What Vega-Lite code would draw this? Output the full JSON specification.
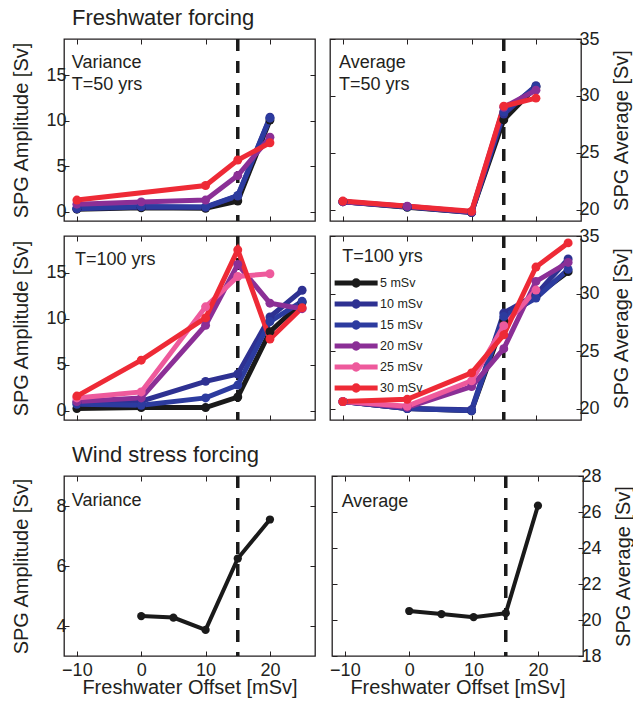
{
  "$schema": "https://vega.github.io/schema/vega-lite/v6.json",
  "description": "SPG amplitude and average vs freshwater offset, freshwater and wind stress forcing",
  "padding": {"left": 10, "top": 7, "right": 0, "bottom": 0},
  "background": "white",
  "datasets": {
    "series": [
      {"p": "v50", "s": "5 mSv", "x": -10, "y": 0.3}, {"p": "v50", "s": "5 mSv", "x": 0, "y": 0.45}, {"p": "v50", "s": "5 mSv", "x": 10, "y": 0.4}, {"p": "v50", "s": "5 mSv", "x": 15, "y": 1.2}, {"p": "v50", "s": "5 mSv", "x": 20, "y": 10.1},
      {"p": "v50", "s": "10 mSv", "x": -10, "y": 0.35}, {"p": "v50", "s": "10 mSv", "x": 0, "y": 0.55}, {"p": "v50", "s": "10 mSv", "x": 10, "y": 0.5}, {"p": "v50", "s": "10 mSv", "x": 15, "y": 1.75}, {"p": "v50", "s": "10 mSv", "x": 20, "y": 10.4},
      {"p": "v50", "s": "15 mSv", "x": -10, "y": 0.4}, {"p": "v50", "s": "15 mSv", "x": 0, "y": 0.6}, {"p": "v50", "s": "15 mSv", "x": 10, "y": 0.55}, {"p": "v50", "s": "15 mSv", "x": 15, "y": 1.8}, {"p": "v50", "s": "15 mSv", "x": 20, "y": 10.3},
      {"p": "v50", "s": "20 mSv", "x": -10, "y": 0.85}, {"p": "v50", "s": "20 mSv", "x": 0, "y": 1.1}, {"p": "v50", "s": "20 mSv", "x": 10, "y": 1.3}, {"p": "v50", "s": "20 mSv", "x": 15, "y": 4.0}, {"p": "v50", "s": "20 mSv", "x": 20, "y": 8.2},
      {"p": "v50", "s": "30 mSv", "x": -10, "y": 1.3}, {"p": "v50", "s": "30 mSv", "x": 10, "y": 2.9}, {"p": "v50", "s": "30 mSv", "x": 15, "y": 5.7}, {"p": "v50", "s": "30 mSv", "x": 20, "y": 7.6},

      {"p": "a50", "s": "5 mSv", "x": -10, "y": 20.7}, {"p": "a50", "s": "5 mSv", "x": 0, "y": 20.2}, {"p": "a50", "s": "5 mSv", "x": 10, "y": 19.75}, {"p": "a50", "s": "5 mSv", "x": 15, "y": 27.9}, {"p": "a50", "s": "5 mSv", "x": 20, "y": 30.8},
      {"p": "a50", "s": "10 mSv", "x": -10, "y": 20.7}, {"p": "a50", "s": "10 mSv", "x": 0, "y": 20.25}, {"p": "a50", "s": "10 mSv", "x": 10, "y": 19.75}, {"p": "a50", "s": "10 mSv", "x": 15, "y": 28.4}, {"p": "a50", "s": "10 mSv", "x": 20, "y": 30.9},
      {"p": "a50", "s": "15 mSv", "x": -10, "y": 20.7}, {"p": "a50", "s": "15 mSv", "x": 0, "y": 20.25}, {"p": "a50", "s": "15 mSv", "x": 10, "y": 19.8}, {"p": "a50", "s": "15 mSv", "x": 15, "y": 28.6}, {"p": "a50", "s": "15 mSv", "x": 20, "y": 30.8},
      {"p": "a50", "s": "20 mSv", "x": -10, "y": 20.7}, {"p": "a50", "s": "20 mSv", "x": 0, "y": 20.3}, {"p": "a50", "s": "20 mSv", "x": 10, "y": 19.8}, {"p": "a50", "s": "20 mSv", "x": 15, "y": 29.0}, {"p": "a50", "s": "20 mSv", "x": 20, "y": 30.5},
      {"p": "a50", "s": "30 mSv", "x": -10, "y": 20.75}, {"p": "a50", "s": "30 mSv", "x": 10, "y": 19.85}, {"p": "a50", "s": "30 mSv", "x": 15, "y": 29.1}, {"p": "a50", "s": "30 mSv", "x": 20, "y": 29.8},

      {"p": "v100", "s": "5 mSv", "x": -10, "y": 0.25}, {"p": "v100", "s": "5 mSv", "x": 0, "y": 0.35}, {"p": "v100", "s": "5 mSv", "x": 10, "y": 0.35}, {"p": "v100", "s": "5 mSv", "x": 15, "y": 1.5}, {"p": "v100", "s": "5 mSv", "x": 20, "y": 8.6}, {"p": "v100", "s": "5 mSv", "x": 25, "y": 11.8},
      {"p": "v100", "s": "10 mSv", "x": -10, "y": 0.9}, {"p": "v100", "s": "10 mSv", "x": 0, "y": 1.05}, {"p": "v100", "s": "10 mSv", "x": 10, "y": 3.2}, {"p": "v100", "s": "10 mSv", "x": 15, "y": 4.0}, {"p": "v100", "s": "10 mSv", "x": 20, "y": 10.2}, {"p": "v100", "s": "10 mSv", "x": 25, "y": 13.1},
      {"p": "v100", "s": "15 mSv", "x": -10, "y": 0.7}, {"p": "v100", "s": "15 mSv", "x": 0, "y": 0.6}, {"p": "v100", "s": "15 mSv", "x": 10, "y": 1.4}, {"p": "v100", "s": "15 mSv", "x": 15, "y": 2.8}, {"p": "v100", "s": "15 mSv", "x": 20, "y": 9.7}, {"p": "v100", "s": "15 mSv", "x": 25, "y": 11.9},
      {"p": "v100", "s": "20 mSv", "x": -10, "y": 1.0}, {"p": "v100", "s": "20 mSv", "x": 0, "y": 1.4}, {"p": "v100", "s": "20 mSv", "x": 10, "y": 9.3}, {"p": "v100", "s": "20 mSv", "x": 15, "y": 15.9}, {"p": "v100", "s": "20 mSv", "x": 20, "y": 11.7}, {"p": "v100", "s": "20 mSv", "x": 25, "y": 11.1},
      {"p": "v100", "s": "25 mSv", "x": -10, "y": 1.4}, {"p": "v100", "s": "25 mSv", "x": 0, "y": 2.05}, {"p": "v100", "s": "25 mSv", "x": 10, "y": 11.3}, {"p": "v100", "s": "25 mSv", "x": 15, "y": 14.6}, {"p": "v100", "s": "25 mSv", "x": 20, "y": 14.9},
      {"p": "v100", "s": "30 mSv", "x": -10, "y": 1.6}, {"p": "v100", "s": "30 mSv", "x": 0, "y": 5.5}, {"p": "v100", "s": "30 mSv", "x": 10, "y": 10.1}, {"p": "v100", "s": "30 mSv", "x": 15, "y": 17.5}, {"p": "v100", "s": "30 mSv", "x": 20, "y": 7.8}, {"p": "v100", "s": "30 mSv", "x": 25, "y": 11.2},

      {"p": "a100", "s": "5 mSv", "x": -10, "y": 20.6}, {"p": "a100", "s": "5 mSv", "x": 0, "y": 20.0}, {"p": "a100", "s": "5 mSv", "x": 10, "y": 19.8}, {"p": "a100", "s": "5 mSv", "x": 15, "y": 27.6}, {"p": "a100", "s": "5 mSv", "x": 20, "y": 29.8}, {"p": "a100", "s": "5 mSv", "x": 25, "y": 31.9},
      {"p": "a100", "s": "10 mSv", "x": -10, "y": 20.6}, {"p": "a100", "s": "10 mSv", "x": 0, "y": 20.0}, {"p": "a100", "s": "10 mSv", "x": 10, "y": 19.9}, {"p": "a100", "s": "10 mSv", "x": 15, "y": 28.3}, {"p": "a100", "s": "10 mSv", "x": 20, "y": 29.9}, {"p": "a100", "s": "10 mSv", "x": 25, "y": 33.0},
      {"p": "a100", "s": "15 mSv", "x": -10, "y": 20.6}, {"p": "a100", "s": "15 mSv", "x": 0, "y": 20.0}, {"p": "a100", "s": "15 mSv", "x": 10, "y": 19.8}, {"p": "a100", "s": "15 mSv", "x": 15, "y": 28.0}, {"p": "a100", "s": "15 mSv", "x": 20, "y": 29.6}, {"p": "a100", "s": "15 mSv", "x": 25, "y": 32.1},
      {"p": "a100", "s": "20 mSv", "x": -10, "y": 20.6}, {"p": "a100", "s": "20 mSv", "x": 0, "y": 20.1}, {"p": "a100", "s": "20 mSv", "x": 10, "y": 21.9}, {"p": "a100", "s": "20 mSv", "x": 15, "y": 25.2}, {"p": "a100", "s": "20 mSv", "x": 20, "y": 31.05}, {"p": "a100", "s": "20 mSv", "x": 25, "y": 32.7},
      {"p": "a100", "s": "25 mSv", "x": -10, "y": 20.6}, {"p": "a100", "s": "25 mSv", "x": 0, "y": 20.2}, {"p": "a100", "s": "25 mSv", "x": 10, "y": 22.4}, {"p": "a100", "s": "25 mSv", "x": 15, "y": 27.2}, {"p": "a100", "s": "25 mSv", "x": 20, "y": 30.3},
      {"p": "a100", "s": "30 mSv", "x": -10, "y": 20.6}, {"p": "a100", "s": "30 mSv", "x": 0, "y": 20.8}, {"p": "a100", "s": "30 mSv", "x": 10, "y": 23.1}, {"p": "a100", "s": "30 mSv", "x": 15, "y": 26.4}, {"p": "a100", "s": "30 mSv", "x": 20, "y": 32.3}, {"p": "a100", "s": "30 mSv", "x": 25, "y": 34.4},

      {"p": "vw", "s": "wind", "x": 0, "y": 4.33}, {"p": "vw", "s": "wind", "x": 5, "y": 4.28}, {"p": "vw", "s": "wind", "x": 10, "y": 3.87}, {"p": "vw", "s": "wind", "x": 15, "y": 6.25}, {"p": "vw", "s": "wind", "x": 20, "y": 7.55},
      {"p": "aw", "s": "wind", "x": 0, "y": 20.5}, {"p": "aw", "s": "wind", "x": 5, "y": 20.33}, {"p": "aw", "s": "wind", "x": 10, "y": 20.16}, {"p": "aw", "s": "wind", "x": 15, "y": 20.38}, {"p": "aw", "s": "wind", "x": 20, "y": 26.35}
    ]
  },
  "vconcat": [
    {
      "vconcat": [
        {
          "title": {"text": "Freshwater forcing", "frame": "group", "dx": 8},
          "hconcat": [
            {
              "width": 251, "height": 182,
              "layer": [
                {"data": {"values": [{"x": 15}]}, "mark": {"type": "rule", "color": "#1a1a1a", "strokeWidth": 3.5, "strokeDash": [12, 10]},
                 "encoding": {"x": {"field": "x", "type": "quantitative", "scale": {"domain": [-12, 27], "nice": false, "zero": false}, "axis": null}}},
                {"data": {"name": "series"}, "transform": [{"filter": "datum.p == 'v50'"}],
                 "mark": {"type": "line", "strokeWidth": 5, "point": {"filled": true, "size": 80, "opacity": 1}},
                 "encoding": {
                   "x": {"field": "x", "type": "quantitative", "scale": {"domain": [-12, 27], "nice": false, "zero": false}, "axis": {"values": [-10, 0, 10, 20], "labels": false, "title": null, "minExtent": 0, "maxExtent": 0}},
                   "y": {"field": "y", "type": "quantitative", "scale": {"domain": [-1, 19], "nice": false, "zero": false}, "axis": {"orient": "left", "values": [0, 5, 10, 15], "title": "SPG Amplitude [Sv]", "minExtent": 30, "maxExtent": 30}},
                   "color": {"field": "s", "type": "nominal", "scale": {"domain": ["5 mSv", "10 mSv", "15 mSv", "20 mSv", "25 mSv", "30 mSv"], "range": ["#1a1a1a", "#2e3192", "#2c3b9f", "#8b2f96", "#ee5a9c", "#ee2a36"]}, "legend": null}
                 }},
                {"data": {"values": [{"t": "Variance\nT=50 yrs"}]}, "mark": {"type": "text", "align": "left", "baseline": "alphabetic", "fontSize": 18, "lineBreak": "\n", "lineHeight": 22, "font": "Liberation Sans", "color": "#231f20"},
                 "encoding": {
                   "text": {"field": "t"},
                   "x": {"datum": -10.8, "type": "quantitative", "scale": {"domain": [-12, 27], "nice": false, "zero": false}, "axis": {"orient": "top", "values": [-10, 0, 10, 20], "labels": false, "title": null, "minExtent": 0, "maxExtent": 0}},
                   "y": {"datum": 15.8, "type": "quantitative", "scale": {"domain": [-1, 19], "nice": false, "zero": false}, "axis": {"orient": "right", "values": [0, 5, 10, 15], "labels": false, "title": null, "minExtent": 0, "maxExtent": 0}}
                 }}
              ],
              "resolve": {"axis": {"x": "independent", "y": "independent"}}
            },
            {
              "width": 251, "height": 182,
              "layer": [
                {"data": {"values": [{"x": 15}]}, "mark": {"type": "rule", "color": "#1a1a1a", "strokeWidth": 3.5, "strokeDash": [12, 10]},
                 "encoding": {"x": {"field": "x", "type": "quantitative", "scale": {"domain": [-12, 27], "nice": false, "zero": false}, "axis": null}}},
                {"data": {"name": "series"}, "transform": [{"filter": "datum.p == 'a50'"}],
                 "mark": {"type": "line", "strokeWidth": 5, "point": {"filled": true, "size": 80, "opacity": 1}},
                 "encoding": {
                   "x": {"field": "x", "type": "quantitative", "scale": {"domain": [-12, 27], "nice": false, "zero": false}, "axis": {"values": [-10, 0, 10, 20], "labels": false, "title": null, "minExtent": 0, "maxExtent": 0}},
                   "y": {"field": "y", "type": "quantitative", "scale": {"domain": [19, 35], "nice": false, "zero": false}, "axis": {"orient": "right", "values": [20, 25, 30, 35], "title": "SPG Average [Sv]", "titleAngle": 270, "titleBaseline": "top", "minExtent": 27, "maxExtent": 27}},
                   "color": {"field": "s", "type": "nominal", "scale": {"domain": ["5 mSv", "10 mSv", "15 mSv", "20 mSv", "25 mSv", "30 mSv"], "range": ["#1a1a1a", "#2e3192", "#2c3b9f", "#8b2f96", "#ee5a9c", "#ee2a36"]}, "legend": null}
                 }},
                {"data": {"values": [{"t": "Average\nT=50 yrs"}]}, "mark": {"type": "text", "align": "left", "baseline": "alphabetic", "fontSize": 18, "lineBreak": "\n", "lineHeight": 22, "font": "Liberation Sans", "color": "#231f20"},
                 "encoding": {
                   "text": {"field": "t"},
                   "x": {"datum": -10.6, "type": "quantitative", "scale": {"domain": [-12, 27], "nice": false, "zero": false}, "axis": {"orient": "top", "values": [-10, 0, 10, 20], "labels": false, "title": null, "minExtent": 0, "maxExtent": 0}},
                   "y": {"datum": 32.45, "type": "quantitative", "scale": {"domain": [19, 35], "nice": false, "zero": false}, "axis": {"orient": "left", "values": [20, 25, 30, 35], "labels": false, "title": null, "minExtent": 0, "maxExtent": 0}}
                 }}
              ],
              "resolve": {"axis": {"x": "independent", "y": "independent"}}
            }
          ],
          "spacing": 11,
          "resolve": {"scale": {"color": "independent"}}
        },
        {
          "hconcat": [
            {
              "width": 251, "height": 184,
              "layer": [
                {"data": {"values": [{"x": 15}]}, "mark": {"type": "rule", "color": "#1a1a1a", "strokeWidth": 3.5, "strokeDash": [12, 10]},
                 "encoding": {"x": {"field": "x", "type": "quantitative", "scale": {"domain": [-12, 27], "nice": false, "zero": false}, "axis": null}}},
                {"data": {"name": "series"}, "transform": [{"filter": "datum.p == 'v100'"}],
                 "mark": {"type": "line", "strokeWidth": 5, "point": {"filled": true, "size": 80, "opacity": 1}},
                 "encoding": {
                   "x": {"field": "x", "type": "quantitative", "scale": {"domain": [-12, 27], "nice": false, "zero": false}, "axis": {"values": [-10, 0, 10, 20], "labels": false, "title": null, "minExtent": 0, "maxExtent": 0}},
                   "y": {"field": "y", "type": "quantitative", "scale": {"domain": [-1, 19], "nice": false, "zero": false}, "axis": {"orient": "left", "values": [0, 5, 10, 15], "title": "SPG Amplitude [Sv]", "minExtent": 30, "maxExtent": 30}},
                   "color": {"field": "s", "type": "nominal", "scale": {"domain": ["5 mSv", "10 mSv", "15 mSv", "20 mSv", "25 mSv", "30 mSv"], "range": ["#1a1a1a", "#2e3192", "#2c3b9f", "#8b2f96", "#ee5a9c", "#ee2a36"]}, "legend": null}
                 }},
                {"data": {"values": [{"t": "T=100 yrs"}]}, "mark": {"type": "text", "align": "left", "baseline": "alphabetic", "fontSize": 18, "font": "Liberation Sans", "color": "#231f20"},
                 "encoding": {
                   "text": {"field": "t"},
                   "x": {"datum": -10.3, "type": "quantitative", "scale": {"domain": [-12, 27], "nice": false, "zero": false}, "axis": {"orient": "top", "values": [-10, 0, 10, 20], "labels": false, "title": null, "minExtent": 0, "maxExtent": 0}},
                   "y": {"datum": 15.9, "type": "quantitative", "scale": {"domain": [-1, 19], "nice": false, "zero": false}, "axis": {"orient": "right", "values": [0, 5, 10, 15], "labels": false, "title": null, "minExtent": 0, "maxExtent": 0}}
                 }}
              ],
              "resolve": {"axis": {"x": "independent", "y": "independent"}}
            },
            {
              "width": 251, "height": 184,
              "layer": [
                {"data": {"values": [{"x": 15}]}, "mark": {"type": "rule", "color": "#1a1a1a", "strokeWidth": 3.5, "strokeDash": [12, 10]},
                 "encoding": {"x": {"field": "x", "type": "quantitative", "scale": {"domain": [-12, 27], "nice": false, "zero": false}, "axis": null}}},
                {"data": {"name": "series"}, "transform": [{"filter": "datum.p == 'a100'"}],
                 "mark": {"type": "line", "strokeWidth": 5, "point": {"filled": true, "size": 80, "opacity": 1}},
                 "encoding": {
                   "x": {"field": "x", "type": "quantitative", "scale": {"domain": [-12, 27], "nice": false, "zero": false}, "axis": {"values": [-10, 0, 10, 20], "labels": false, "title": null, "minExtent": 0, "maxExtent": 0}},
                   "y": {"field": "y", "type": "quantitative", "scale": {"domain": [19, 35], "nice": false, "zero": false}, "axis": {"orient": "right", "values": [20, 25, 30, 35], "title": "SPG Average [Sv]", "titleAngle": 270, "titleBaseline": "top", "minExtent": 27, "maxExtent": 27}},
                   "color": {"field": "s", "type": "nominal", "scale": {"domain": ["5 mSv", "10 mSv", "15 mSv", "20 mSv", "25 mSv", "30 mSv"], "range": ["#1a1a1a", "#2e3192", "#2c3b9f", "#8b2f96", "#ee5a9c", "#ee2a36"]},
                     "legend": {"title": null, "orient": "none", "legendX": 2, "legendY": 39, "padding": 0, "symbolType": "M-1,0H7M3.4,0A0.4,0.4 0 1,1 2.6,0A0.4,0.4 0 1,1 3.4,0", "symbolSize": 115.6, "symbolStrokeWidth": 5, "symbolOpacity": 1, "labelFont": "Liberation Sans", "labelFontSize": 12.5, "labelColor": "#231f20", "labelOffset": 32, "rowPadding": -6.8}}
                 }},
                {"data": {"values": [{"t": "T=100 yrs"}]}, "mark": {"type": "text", "align": "left", "baseline": "alphabetic", "fontSize": 18, "font": "Liberation Sans", "color": "#231f20"},
                 "encoding": {
                   "text": {"field": "t"},
                   "x": {"datum": -10.1, "type": "quantitative", "scale": {"domain": [-12, 27], "nice": false, "zero": false}, "axis": {"orient": "top", "values": [-10, 0, 10, 20], "labels": false, "title": null, "minExtent": 0, "maxExtent": 0}},
                   "y": {"datum": 32.7, "type": "quantitative", "scale": {"domain": [19, 35], "nice": false, "zero": false}, "axis": {"orient": "left", "values": [20, 25, 30, 35], "labels": false, "title": null, "minExtent": 0, "maxExtent": 0}}
                 }}
              ],
              "resolve": {"axis": {"x": "independent", "y": "independent"}}
            }
          ],
          "spacing": 11,
          "resolve": {"scale": {"color": "independent"}}
        }
      ],
      "spacing": 2,
      "resolve": {"scale": {"color": "independent"}}
    },
    {
      "title": {"text": "Wind stress forcing", "frame": "group", "dx": 8},
      "hconcat": [
        {
          "width": 251, "height": 180,
          "layer": [
            {"data": {"values": [{"x": 15}]}, "mark": {"type": "rule", "color": "#1a1a1a", "strokeWidth": 3.5, "strokeDash": [12, 10]},
             "encoding": {"x": {"field": "x", "type": "quantitative", "scale": {"domain": [-12, 27], "nice": false, "zero": false}, "axis": null}}},
            {"data": {"name": "series"}, "transform": [{"filter": "datum.p == 'vw'"}],
             "mark": {"type": "line", "strokeWidth": 4, "color": "#1a1a1a", "point": {"filled": true, "size": 68, "opacity": 1, "color": "#1a1a1a"}},
             "encoding": {
               "x": {"field": "x", "type": "quantitative", "scale": {"domain": [-12, 27], "nice": false, "zero": false}, "axis": {"values": [-10, 0, 10, 20], "title": "Freshwater Offset [mSv]"}},
               "y": {"field": "y", "type": "quantitative", "scale": {"domain": [3, 9], "nice": false, "zero": false}, "axis": {"orient": "left", "values": [4, 6, 8], "title": "SPG Amplitude [Sv]", "minExtent": 30, "maxExtent": 30}}
             }},
            {"data": {"values": [{"t": "Variance"}]}, "mark": {"type": "text", "align": "left", "baseline": "alphabetic", "fontSize": 18, "font": "Liberation Sans", "color": "#231f20"},
             "encoding": {
               "text": {"field": "t"},
               "x": {"datum": -10.8, "type": "quantitative", "scale": {"domain": [-12, 27], "nice": false, "zero": false}, "axis": {"orient": "top", "values": [-10, 0, 10, 20], "labels": false, "title": null, "minExtent": 0, "maxExtent": 0}},
               "y": {"datum": 8.0, "type": "quantitative", "scale": {"domain": [3, 9], "nice": false, "zero": false}, "axis": {"orient": "right", "values": [4, 6, 8], "labels": false, "title": null, "minExtent": 0, "maxExtent": 0}}
             }}
          ],
          "resolve": {"axis": {"x": "independent", "y": "independent"}}
        },
        {
          "width": 251, "height": 180,
          "layer": [
            {"data": {"values": [{"x": 15}]}, "mark": {"type": "rule", "color": "#1a1a1a", "strokeWidth": 3.5, "strokeDash": [12, 10]},
             "encoding": {"x": {"field": "x", "type": "quantitative", "scale": {"domain": [-12, 27], "nice": false, "zero": false}, "axis": null}}},
            {"data": {"name": "series"}, "transform": [{"filter": "datum.p == 'aw'"}],
             "mark": {"type": "line", "strokeWidth": 4, "color": "#1a1a1a", "point": {"filled": true, "size": 68, "opacity": 1, "color": "#1a1a1a"}},
             "encoding": {
               "x": {"field": "x", "type": "quantitative", "scale": {"domain": [-12, 27], "nice": false, "zero": false}, "axis": {"values": [-10, 0, 10, 20], "title": "Freshwater Offset [mSv]"}},
               "y": {"field": "y", "type": "quantitative", "scale": {"domain": [18, 28], "nice": false, "zero": false}, "axis": {"orient": "right", "values": [18, 20, 22, 24, 26, 28], "title": "SPG Average [Sv]", "titleAngle": 270, "titleBaseline": "top", "minExtent": 27, "maxExtent": 27}}
             }},
            {"data": {"values": [{"t": "Average"}]}, "mark": {"type": "text", "align": "left", "baseline": "alphabetic", "fontSize": 18, "font": "Liberation Sans", "color": "#231f20"},
             "encoding": {
               "text": {"field": "t"},
               "x": {"datum": -10.5, "type": "quantitative", "scale": {"domain": [-12, 27], "nice": false, "zero": false}, "axis": {"orient": "top", "values": [-10, 0, 10, 20], "labels": false, "title": null, "minExtent": 0, "maxExtent": 0}},
               "y": {"datum": 26.3, "type": "quantitative", "scale": {"domain": [18, 28], "nice": false, "zero": false}, "axis": {"orient": "left", "values": [18, 20, 22, 24, 26, 28], "labels": false, "title": null, "minExtent": 0, "maxExtent": 0}}
             }}
          ],
          "resolve": {"axis": {"x": "independent", "y": "independent"}}
        }
      ],
      "spacing": 11
    }
  ],
  "spacing": 21,
  "resolve": {"scale": {"color": "independent"}},
  "config": {
    "font": "Liberation Sans",
    "view": {"stroke": "#231f20", "strokeWidth": 1.3},
    "title": {"font": "Liberation Sans", "fontSize": 22, "fontWeight": "normal", "anchor": "start", "color": "#231f20", "offset": -1},
    "axis": {
      "domain": false, "grid": false, "tickSize": -5, "tickColor": "#231f20", "tickWidth": 1,
      "labelFont": "Liberation Sans", "labelFontSize": 18, "labelColor": "#231f20", "labelPadding": 3,
      "titleFont": "Liberation Sans", "titleFontSize": 20, "titleFontWeight": "normal", "titleColor": "#231f20", "titlePadding": 3
    },
    "axisX": {"labelPadding": 10, "titlePadding": -2}
  }
}
